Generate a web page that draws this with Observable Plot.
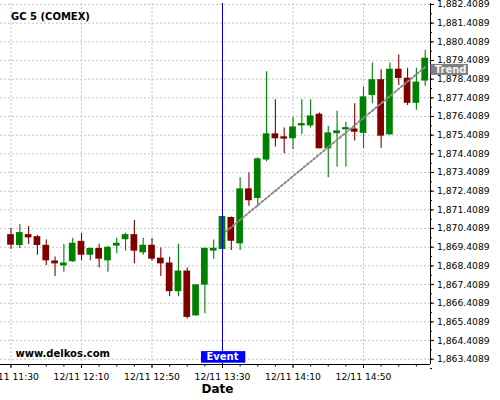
<!DOCTYPE html>
<html>
<head>
<meta charset="utf-8">
<script src="https://cdn.jsdelivr.net/npm/d3@7"></script>
<script src="https://cdn.jsdelivr.net/npm/@observablehq/plot@0.6"></script>
<style>
  html, body { margin: 0; padding: 0; background: #fff; overflow: hidden; }
  #chart { width: 500px; height: 400px; overflow: hidden; }
</style>
</head>
<body>
<div id="chart"></div>
<script>
const title = "GC 5 (COMEX)";
const watermark = "www.delkos.com";
const dayLabel = "12/11";

const times = ["11:30","11:35","11:40","11:45","11:50","11:55","12:00","12:05","12:10","12:15","12:20","12:25",
  "12:30","12:35","12:40","12:45","12:50","12:55","13:00","13:05","13:10","13:15","13:20","13:25",
  "13:30","13:35","13:40","13:45","13:50","13:55","14:00","14:05","14:10","14:15","14:20","14:25",
  "14:30","14:35","14:40","14:45","14:50","14:55","15:00","15:05","15:10","15:15","15:20","15:25"];
const open = [1870.05,1869.53,1870.05,1869.94,1869.48,1868.64,1868.44,1868.66,1869.69,1869.01,1869.31,1868.71,
  1869.50,1869.84,1870.05,1869.14,1869.48,1868.79,1868.53,1867.06,1868.10,1865.76,1867.41,1869.23,
  1869.32,1870.97,1869.62,1872.50,1872.05,1874.11,1875.45,1875.29,1875.25,1875.94,1875.94,1876.50,
  1874.71,1875.52,1875.73,1875.71,1875.54,1877.57,1878.35,1875.46,1878.91,1878.43,1877.15,1878.34];
const high = [1870.41,1870.62,1870.52,1870.03,1869.80,1868.89,1869.55,1869.89,1870.14,1869.37,1869.57,1869.46,
  1869.89,1870.16,1870.84,1869.89,1869.87,1869.36,1868.87,1869.57,1868.30,1867.41,1869.32,1869.79,
  1871.05,1871.03,1873.13,1873.39,1874.20,1878.81,1877.31,1875.80,1876.37,1877.31,1877.31,1876.60,
  1875.89,1876.69,1876.10,1877.09,1878.00,1879.27,1878.91,1879.27,1879.71,1879.00,1879.00,1879.96];
const low = [1869.30,1869.34,1869.55,1868.98,1868.41,1867.84,1868.07,1868.60,1868.68,1868.68,1868.30,1868.07,
  1869.06,1869.19,1868.52,1868.98,1868.66,1867.84,1866.76,1866.76,1865.57,1865.73,1865.85,1868.76,
  1869.20,1869.23,1869.23,1871.60,1871.57,1873.99,1874.77,1874.41,1874.63,1875.45,1875.80,1874.71,
  1873.13,1873.71,1873.71,1875.10,1874.69,1877.09,1874.71,1875.41,1878.07,1877.00,1876.74,1878.03];
const close = [1869.55,1870.16,1869.94,1869.53,1868.71,1868.55,1868.53,1869.59,1869.01,1869.31,1868.80,1869.37,
  1869.59,1870.05,1869.23,1869.48,1868.80,1868.55,1867.06,1868.10,1865.68,1867.36,1869.32,1869.32,
  1871.02,1869.76,1872.50,1871.93,1874.11,1875.45,1875.25,1875.23,1875.82,1876.00,1876.41,1874.71,
  1875.50,1875.61,1875.78,1875.60,1877.43,1878.35,1875.39,1878.91,1878.48,1877.15,1878.22,1879.50];

const eventTime = "13:30";
const eventText = "Event";
const trendTimes = ["13:32","15:25"];
const trendPrices = [1870.25, 1879.06];
const trendText = "Trend";

const xTickTimes = ["11:30","12:10","12:50","13:30","14:10","14:50"];
const yTicks = [1863.4089,1864.4089,1865.4089,1866.4089,1867.4089,1868.4089,1869.4089,1870.4089,1871.4089,
  1872.4089,1873.4089,1874.4089,1875.4089,1876.4089,1877.4089,1878.4089,1879.4089,1880.4089,1881.4089,1882.4089];

// ---- helpers
const toDate = (s) => { const [h, m] = s.split(":").map(Number); return new Date(Date.UTC(2023, 11, 11, h, m)); };
const MIN = 60000;
const candles = times.map((t, i) => ({t: toDate(t), o: open[i], h: high[i], l: low[i], c: close[i]}));
const colorOf = d => d.c >= d.o ? "#008000" : "#800000";
const trend = trendTimes.map((t, i) => ({t: toDate(t), p: trendPrices[i]}));
const xTicks = xTickTimes.map(toDate);
const xMinor = d3.utcMinute.every(10).range(toDate("11:30"), toDate("15:28"));
const yMinor = d3.range(1863.4089 - 0.5, 1882.5, 0.5);

const xDomain = [new Date(toDate("11:30") - 5.957 * MIN), new Date(+toDate("11:30") + 238.01 * MIN)];
const yDomain = [1863.1265, 1882.4625];
const fmtY = d3.format(",.4f");
const fmtX = d => dayLabel + " " + d3.utcFormat("%H:%M")(d);
const yPerPx = (yDomain[1] - yDomain[0]) / 361;
const xPerPx = (xDomain[1] - xDomain[0]) / 430;

const font = "DejaVu Sans";
const grid = {stroke: "#c4c4c4", strokeDasharray: "2,2", strokeWidth: 1};

const plot = Plot.plot({
  width: 500,
  height: 400,
  marginLeft: 0,
  marginRight: 70,
  marginTop: 3,
  marginBottom: 36,
  style: {fontFamily: font, fontSize: "9.2px", background: "#fff", overflow: "hidden"},
  x: {type: "utc", domain: xDomain, axis: null},
  y: {domain: yDomain, axis: null},
  marks: [
    // grid
    Plot.ruleY(yTicks, {y: d => d, ...grid}),
    Plot.ruleX(xTicks, {x: d => d, ...grid}),
    // candles
    Plot.ruleX(candles, {x: "t", y1: "l", y2: "h", stroke: colorOf, strokeWidth: 1.1}),
    Plot.rect(candles, {x1: d => new Date(+d.t - 1.9 * MIN), x2: d => new Date(+d.t + 1.9 * MIN),
      y1: "o", y2: "c", fill: colorOf, insetTop: -0.6, insetBottom: -0.6}),
    // trend
    Plot.line(trend, {x: "t", y: "p", stroke: "#8a8a8a", strokeWidth: 2, strokeDasharray: "2,2.2"}),
    // event line
    Plot.ruleX([toDate(eventTime)], {x: d => d, stroke: "#0000cd", strokeWidth: 1}),
    // axes lines
    Plot.ruleX([xDomain[1]], {x: d => d, stroke: "#000", strokeWidth: 1}),
    Plot.ruleY([yDomain[0]], {y: d => d, stroke: "#000", strokeWidth: 1}),
    // y ticks (right)
    Plot.ruleY(yTicks, {y: d => d, x1: xDomain[1], x2: new Date(+xDomain[1] + 4 * xPerPx), stroke: "#000"}),
    Plot.ruleY(yMinor, {y: d => d, x1: xDomain[1], x2: new Date(+xDomain[1] + 2 * xPerPx), stroke: "#000"}),
    Plot.text(yTicks, {y: d => d, text: d => fmtY(d), frameAnchor: "right", dx: 6.5, textAnchor: "start",
      lineAnchor: "middle", fill: "#000"}),
    // x ticks (bottom)
    Plot.ruleX(xTicks, {x: d => d, y1: yDomain[0], y2: yDomain[0] - 4 * yPerPx, stroke: "#000"}),
    Plot.ruleX(xMinor, {x: d => d, y1: yDomain[0], y2: yDomain[0] - 2.5 * yPerPx, stroke: "#000"}),
    Plot.text(xTicks, {x: d => d, text: d => fmtX(d), frameAnchor: "bottom", dy: 12.5, lineAnchor: "middle",
      fill: "#000"}),
    Plot.text(["Date"], {frameAnchor: "bottom", dx: 2, dy: 24.5, lineAnchor: "middle", fontWeight: "bold",
      fontSize: 12, fill: "#000"}),
    // title + watermark
    Plot.text([title], {frameAnchor: "top-left", dx: 10.5, dy: 13, textAnchor: "start", lineAnchor: "middle",
      fontWeight: "bold", fontSize: 10, fill: "#000"}),
    Plot.text([watermark], {frameAnchor: "bottom-left", dx: 15, dy: -10.5, textAnchor: "start", lineAnchor: "middle",
      fontWeight: "bold", fontSize: 10, fill: "#000"}),
    // labels
    Plot.text([eventText], {x: () => toDate(eventTime), frameAnchor: "bottom", dy: -7.3, lineAnchor: "middle",
      textAnchor: "middle", fontWeight: "bold", fontSize: 10, fill: "#fff"}),
    Plot.text([trendText], {y: () => trendPrices[trendPrices.length - 1], frameAnchor: "right", dx: 4.3, dy: 2.7,
      textAnchor: "start", lineAnchor: "middle", fontWeight: "bold", fontSize: 10, fill: "#f4f4f4"})
  ]
});

document.getElementById("chart").appendChild(plot);

// label boxes behind texts
function boxBehind(label, fill, padL, padR, padT, padB) {
  plot.querySelectorAll("text").forEach(t => {
    if (t.textContent === label) {
      const b = t.getBBox();
      const r = document.createElementNS("http://www.w3.org/2000/svg", "rect");
      const tr = t.getAttribute("transform");
      if (tr) r.setAttribute("transform", tr);
      r.setAttribute("x", b.x - padL);
      r.setAttribute("y", b.y - padT);
      r.setAttribute("width", b.width + padL + padR);
      r.setAttribute("height", b.height + padT + padB);
      r.setAttribute("fill", fill);
      t.parentNode.insertBefore(r, t);
    }
  });
}
boxBehind(eventText, "#0000ff", 5.5, 6.5, 0.3, 0.3);
boxBehind(trendText, "#808080", 4.3, 1.5, 0, 0);
</script>
</body>
</html>
